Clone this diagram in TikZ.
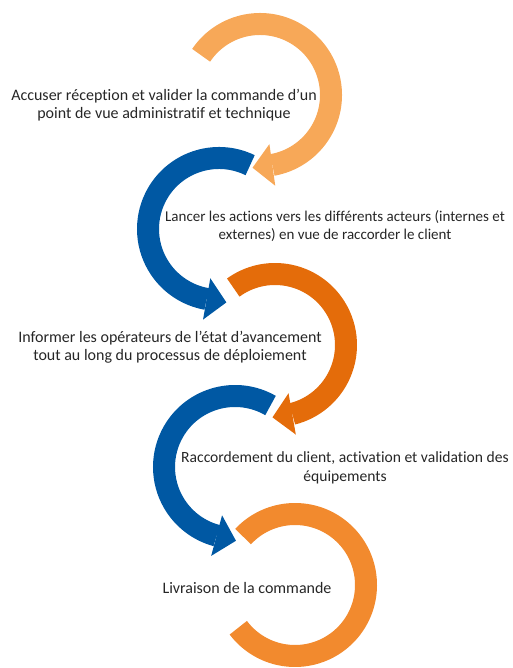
\documentclass[tikz,border=0pt]{standalone}
\usepackage{fontspec}
\setmainfont{Carlito}[Ligatures=CommonOff]
\usetikzlibrary{arrows.meta}
\definecolor{lightorange}{RGB}{247,168,88}
\definecolor{deepblue}{RGB}{0,88,163}
\definecolor{darkorange}{RGB}{228,108,10}
\definecolor{midorange}{RGB}{242,138,46}
\begin{document}
\begin{tikzpicture} [
  x=1pt, y=1pt,
  ring/.style= {line width=22pt},
  ring tip/.style= {-{Triangle[width=42pt,length=20pt,line width=0pt]}},
  stage text/.style= {align=center,font=\fontsize{16}{18.5}\selectfont,text=black!85},
]
\useasboundingbox (0,0) rectangle (512,-668);
\coordinate (c1) at (260,-95);
\coordinate (c2) at (219,-229);
\coordinate (c3) at (275,-345);
\coordinate (c4) at (235,-467);
\coordinate (c5) at (295,-585);
\draw [ring,ring tip,lightorange] (c1) ++(146:71) arc [start angle=146,end angle=-80,radius=71] -- ++(-172:20);
\draw [ring,ring tip,deepblue] (c2) ++(64:71) arc [start angle=64,end angle=260,radius=71] -- ++(-10:20);
\draw [ring,ring tip,darkorange] (c3) ++(126:71) arc [start angle=126,end angle=-76,radius=71] -- ++(-170:20);
\draw [ring,ring tip,deepblue] (c4) ++(60:71) arc [start angle=60,end angle=255,radius=71] -- ++(-15:20);
\draw [ring,midorange] (c5) ++(137:71) arc [start angle=137,end angle=-143,radius=71];
\node (t1) [stage text] at (164,-105) {Accuser réception et valider la commande d’un\\point de vue administratif et technique};
\node (t2) [stage text,font=\fontsize{15}{18.5}\selectfont] at (335,-226) {Lancer les actions vers les différents acteurs (internes et\\externes) en vue de raccorder le client};
\node (t3) [stage text] at (170,-347) {Informer les opérateurs de l’état d’avancement\\tout au long du processus de déploiement};
\node (t4) [stage text,font=\fontsize{15.6}{18.5}\selectfont] at (345,-468) {Raccordement du client, activation et validation des\\équipements};
\node (t5) [stage text] at (247,-588) {Livraison de la commande};
\end{tikzpicture}
\end{document}
